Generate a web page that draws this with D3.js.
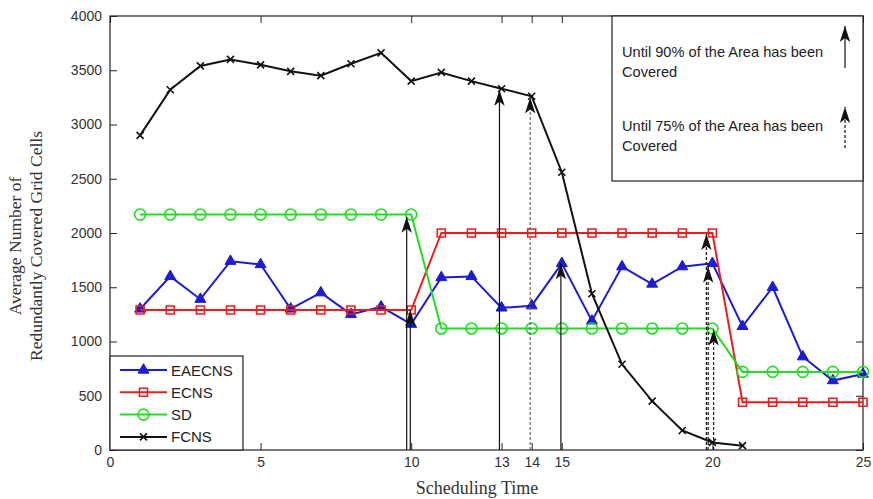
<!DOCTYPE html>
<html>
<head>
<meta charset="utf-8">
<script src="https://cdn.jsdelivr.net/npm/d3@7"></script>
<style>
  body { margin: 0; background: #fff; }
  svg { display: block; }
  .tick text { font-family: "Liberation Sans", Arial, sans-serif; font-size: 14px; fill: #333; }
</style>
</head>
<body>
<svg id="chart" width="873" height="499"></svg>
<script>
// scheduling time steps
var times = [1, 2, 3, 4, 5, 6, 7, 8, 9, 10, 11, 12, 13, 14, 15, 16, 17, 18, 19, 20, 21, 22, 23, 24, 25];
var eaecns = [1300, 1600, 1390, 1740, 1710, 1300, 1450, 1250, 1320, 1160, 1590, 1600, 1310, 1330, 1720,
              1190, 1690, 1530, 1690, 1720, 1140, 1500, 860, 640, 700];
var ecns = [1290, 1290, 1290, 1290, 1290, 1290, 1290, 1290, 1290, 1290, 2000, 2000, 2000, 2000, 2000,
            2000, 2000, 2000, 2000, 2000, 440, 440, 440, 440, 440];
var sd = [2170, 2170, 2170, 2170, 2170, 2170, 2170, 2170, 2170, 2170, 1120, 1120, 1120, 1120, 1120,
          1120, 1120, 1120, 1120, 1120, 720, 720, 720, 720, 720];
var fcns = [2900, 3320, 3540, 3600, 3550, 3490, 3450, 3560, 3660, 3400, 3480, 3400, 3330, 3260, 2560,
            1440, 790, 450, 180, 70, 40];

var xTicks = [0, 5, 10, 13, 14, 15, 20, 25];
var yTicks = [0, 500, 1000, 1500, 2000, 2500, 3000, 3500, 4000];

// arrows: [time, value]
var arrows90 = [[9.85, 2150], [9.97, 1290], [12.93, 3320], [14.97, 1720]];
var arrows75 = [[13.95, 3250], [19.8, 1990], [19.86, 1690], [20.04, 1110]];

var series = [
    {name: "EAECNS", values: eaecns, color: "#1c1cd0", marker: "triangle"},
    {name: "ECNS", values: ecns, color: "#ee1c1c", marker: "square"},
    {name: "SD", values: sd, color: "#22dd22", marker: "circle"},
    {name: "FCNS", values: fcns, color: "#111111", marker: "cross"}
];

var plotLeft = 110, plotRight = 863, plotTop = 16, plotBottom = 450;

var svg = d3.select("#chart");

var x = d3.scaleLinear().domain([0, 25]).range([plotLeft, plotRight]);
var y = d3.scaleLinear().domain([0, 4000]).range([plotBottom, plotTop]);

// axes, ticks pointing inward, mirrored on top/right
svg.append("g")
    .attr("transform", "translate(0," + plotBottom + ")")
    .call(d3.axisBottom(x).tickValues(xTicks).tickSize(-7).tickPadding(7).tickFormat(d3.format("d")))
    .call(function(g) { g.select(".domain").remove(); });
svg.append("g")
    .attr("transform", "translate(0," + plotTop + ")")
    .call(d3.axisTop(x).tickValues(xTicks).tickSize(-7).tickFormat(""))
    .call(function(g) { g.select(".domain").remove(); });
svg.append("g")
    .attr("transform", "translate(" + plotLeft + ",0)")
    .call(d3.axisLeft(y).tickValues(yTicks).tickSize(-7).tickPadding(8).tickFormat(d3.format("d")))
    .call(function(g) { g.select(".domain").remove(); });
svg.append("g")
    .attr("transform", "translate(" + plotRight + ",0)")
    .call(d3.axisRight(y).tickValues(yTicks).tickSize(-7).tickFormat(""))
    .call(function(g) { g.select(".domain").remove(); });
svg.selectAll(".tick line").attr("stroke", "#222");

svg.append("rect")
    .attr("x", plotLeft).attr("y", plotTop)
    .attr("width", plotRight - plotLeft).attr("height", plotBottom - plotTop)
    .attr("fill", "none").attr("stroke", "#222").attr("stroke-width", 1.2);

// arrowhead marker
var defs = svg.append("defs");
defs.append("marker")
    .attr("id", "head")
    .attr("markerUnits", "userSpaceOnUse")
    .attr("viewBox", "0 -6 16 12")
    .attr("refX", 16).attr("refY", 0)
    .attr("markerWidth", 16).attr("markerHeight", 12)
    .attr("orient", "auto")
    .append("path")
    .attr("d", "M0,-5.2L16,0L0,5.2L4,0Z")
    .attr("fill", "#111");

var drawArrows = function(list, dashed) {
    svg.append("g").selectAll("line")
        .data(list)
        .enter().append("line")
        .attr("x1", function(d) { return x(d[0]); })
        .attr("x2", function(d) { return x(d[0]); })
        .attr("y1", y(0))
        .attr("y2", function(d) { return y(d[1]); })
        .attr("stroke", function(d) { return dashed && d[0] < 15 ? "#666" : "#111"; })
        .attr("stroke-width", 1.2)
        .attr("stroke-dasharray", dashed ? "3,2" : null)
        .attr("marker-end", "url(#head)");
};

var line = d3.line()
    .x(function(d, i) { return x(times[i]); })
    .y(function(d) { return y(d); });

var markerPath = function(type) {
    if (type === "triangle") return d3.symbol(d3.symbolTriangle, 52)();
    if (type === "square") return "M-4,-4H4V4H-4Z";
    if (type === "circle") return d3.symbol(d3.symbolCircle, 95)();
    return "M-3.5,-3.5L3.5,3.5M-3.5,3.5L3.5,-3.5";
};

var drawMarker = function(sel, s) {
    sel.attr("d", markerPath(s.marker))
        .attr("fill", s.marker === "triangle" ? s.color : "none")
        .attr("stroke", s.color)
        .attr("stroke-width", s.marker === "triangle" ? 1 : 1.6);
};

series.forEach(function(s) {
    var g = svg.append("g");
    g.append("path")
        .attr("d", line(s.values))
        .attr("fill", "none")
        .attr("stroke", s.color)
        .attr("stroke-width", 2);
    g.selectAll("path.pt")
        .data(s.values)
        .enter().append("path")
        .attr("class", "pt")
        .attr("transform", function(d, i) { return "translate(" + x(times[i]) + "," + y(d) + ")"; })
        .call(drawMarker, s);
});

drawArrows(arrows90, false);
drawArrows(arrows75, true);

// legend
var legend = svg.append("g").attr("transform", "translate(" + plotLeft + ",356)");
legend.append("rect")
    .attr("width", 133).attr("height", plotBottom - 356)
    .attr("fill", "#fff").attr("stroke", "#222").attr("stroke-width", 1.2);
series.forEach(function(s, i) {
    var row = legend.append("g").attr("transform", "translate(0," + (14 + i * 22.3) + ")");
    row.append("line")
        .attr("x1", 10).attr("x2", 57)
        .attr("stroke", s.color).attr("stroke-width", 2);
    row.append("path")
        .attr("transform", "translate(33.5,0)")
        .call(drawMarker, s);
    row.append("text")
        .attr("x", 61).attr("y", 5.5)
        .attr("font-family", "Liberation Sans, Arial, sans-serif")
        .attr("font-size", 15)
        .attr("fill", "#222")
        .text(s.name);
});

// annotation box
var note = svg.append("g").attr("transform", "translate(612," + plotTop + ")");
note.append("rect")
    .attr("width", plotRight - 612).attr("height", 165)
    .attr("fill", "#fff").attr("stroke", "#222").attr("stroke-width", 1.2);
var noteLines = [
    ["Until 90% of the Area has been", "Covered"],
    ["Until 75% of the Area has been", "Covered"]
];
noteLines.forEach(function(lines, i) {
    var t = note.append("text")
        .attr("font-family", "Liberation Sans, Arial, sans-serif")
        .attr("font-size", 14.6)
        .attr("fill", "#222");
    lines.forEach(function(l, j) {
        t.append("tspan").attr("x", 10).attr("y", 41 + i * 74 + j * 20).text(l);
    });
    note.append("line")
        .attr("x1", 233).attr("x2", 233)
        .attr("y1", 52 + i * 80).attr("y2", 10 + i * 81)
        .attr("stroke", "#111").attr("stroke-width", 1.2)
        .attr("stroke-dasharray", i ? "3,2" : null)
        .attr("marker-end", "url(#head)");
});

// axis titles
svg.append("text")
    .attr("x", 477).attr("y", 494)
    .attr("text-anchor", "middle")
    .attr("font-family", "Liberation Serif, Times New Roman, serif")
    .attr("font-size", 18)
    .attr("fill", "#333")
    .text("Scheduling Time");
var yTitle = svg.append("text")
    .attr("transform", "translate(0,246) rotate(-90)")
    .attr("text-anchor", "middle")
    .attr("font-family", "Liberation Serif, Times New Roman, serif")
    .attr("font-size", 17.5)
    .attr("fill", "#333");
yTitle.append("tspan").attr("x", 0).attr("y", 21).text("Average Number of");
yTitle.append("tspan").attr("x", 0).attr("y", 42).text("Redundantly Covered Grid Cells");
</script>
</body>
</html>
